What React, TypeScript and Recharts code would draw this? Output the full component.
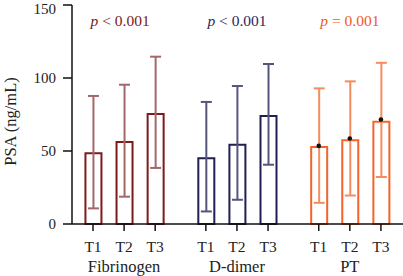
import React from "react";
import { ComposedChart, Bar, ErrorBar, Line, XAxis, YAxis, ReferenceDot } from "recharts";

const groups = ["Fibrinogen", "D-dimer", "PT"];
const timeLabels = ["T1", "T2", "T3"];
const pTexts = ["< 0.001", "< 0.001", "= 0.001"];

const fibMean = [48.4, 56.2, 75.3];
const fibLow = [10.7, 18.7, 38.4];
const fibHigh = [87.7, 95.4, 114.6];

const ddMean = [45.0, 54.3, 74.0];
const ddLow = [8.6, 16.6, 40.6];
const ddHigh = [83.6, 94.5, 109.6];

const ptMean = [52.8, 57.4, 70.0];
const ptLow = [14.5, 19.5, 32.2];
const ptHigh = [92.9, 97.7, 110.4];
const ptMedian = [53.5, 58.6, 71.5];

const yTicks = [0, 50, 100, 150];

const GROUP_STRIDE = 3.63;
const barColors = ["#7d1a1c", "#1f1f52", "#f2642a"];
const whiskerColors = ["#a3676a", "#55557c", "#f58c5e"];
const textColors = ["#7b1a1a", "#2a2a5e", "#f05a28"];
const FONT = "Liberation Serif";

const means = [fibMean, ddMean, ptMean];
const lows = [fibLow, ddLow, ptLow];
const highs = [fibHigh, ddHigh, ptHigh];
const keys = ["fib", "dd", "pt"];

type Row = { [k: string]: any };
const data: Row[] = [];
groups.forEach((g, gi) => {
  timeLabels.forEach((t, ti) => {
    const row: Row = { pos: gi * GROUP_STRIDE + ti, label: t, group: g, ti };
    keys.forEach((k, ki) => {
      if (ki === gi) {
        row[k] = means[gi][ti];
        row[k + "Err"] = [means[gi][ti] - lows[gi][ti], highs[gi][ti] - means[gi][ti]];
      } else {
        row[k] = null;
        row[k + "Err"] = null;
      }
    });
    row.ptDot = gi === 2 ? ptMedian[ti] : null;
    data.push(row);
  });
});

const tickPositions = data.map((d) => d.pos);

const XTick = (props: any) => {
  const { x, y, payload } = props;
  const row = data.find((d) => Math.abs(d.pos - payload.value) < 1e-6);
  if (!row) return null;
  return (
    <g>
      <text x={x} y={y} dy={11} textAnchor="middle" fontFamily={FONT} fontSize={15.5} fill="#222">
        {row.label}
      </text>
      {row.ti === 1 && (
        <text x={x} y={y} dy={31} textAnchor="middle" fontFamily={FONT} fontSize={16.5} fill="#222">
          {row.group}
        </text>
      )}
    </g>
  );
};

const PLabel = (gi: number) => (props: any) => {
  const vb = props.viewBox || {};
  const cx = (vb.x ?? 0) + (vb.width ?? 0) / 2;
  const cy = (vb.y ?? 0) + (vb.height ?? 0) / 2;
  return (
    <text x={cx + (gi === 0 ? -4 : 0)} y={cy} dy={5} textAnchor="middle" fontFamily={FONT} fontSize={15.5} fill={textColors[gi]}>
      <tspan fontStyle="italic">p</tspan>
      <tspan>{" " + pTexts[gi]}</tspan>
    </text>
  );
};

export default function App() {
  return (
    <div style={{ position: "absolute", left: 0, top: 0, width: 403, height: 276, background: "#fff" }}>
      <ComposedChart
        width={403}
        height={276}
        data={data}
        margin={{ top: 5, right: 0, bottom: 0, left: 0 }}
      >
        <XAxis
          dataKey="pos"
          type="number"
          domain={[-0.675, 9.97]}
          ticks={tickPositions}
          allowDataOverflow
          interval={0}
          height={52}
          tickSize={7}
          tickMargin={10}
          stroke="#111"
          strokeWidth={1.5}
          tick={<XTick />}
        />
        <YAxis
          type="number"
          domain={[0, 150]}
          ticks={yTicks}
          width={72}
          tickSize={9}
          tickMargin={7}
          stroke="#111"
          strokeWidth={1.5}
          tick={{ fontFamily: FONT, fontSize: 15, fill: "#222" }}
          label={{
            value: "PSA (ng/mL)",
            angle: -90,
            position: "center",
            dx: -26,
            dy: 7,
            style: { fontFamily: FONT, fontSize: 16.5, fill: "#222", textAnchor: "middle" },
          }}
        />
        {keys.map((k, ki) => (
          <Bar
            key={k}
            dataKey={k}
            stackId="s"
            barSize={16}
            fill="#fff"
            stroke={barColors[ki]}
            strokeWidth={2}
            isAnimationActive={false}
          >
            <ErrorBar dataKey={k + "Err"} width={5.5} stroke={whiskerColors[ki]} strokeWidth={2} direction="y" />
          </Bar>
        ))}
        <Line
          dataKey="ptDot"
          stroke="none"
          dot={{ r: 2.3, fill: "#111", stroke: "none" }}
          activeDot={false}
          isAnimationActive={false}
          connectNulls={false}
        />
        {groups.map((g, gi) => (
          <ReferenceDot
            key={g}
            x={gi * GROUP_STRIDE + 1}
            y={139}
            r={1}
            fill="none"
            stroke="none"
            label={PLabel(gi)}
          />
        ))}
      </ComposedChart>
    </div>
  );
}
